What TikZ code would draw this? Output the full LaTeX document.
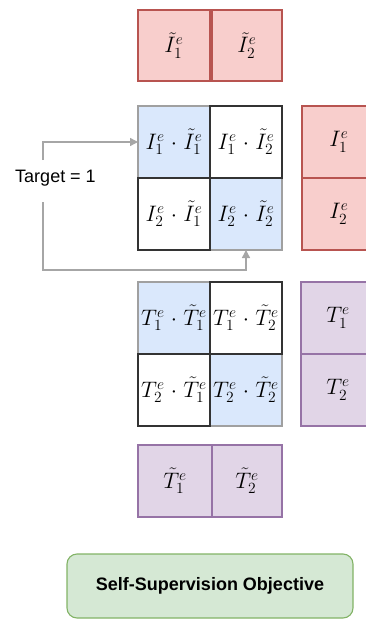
\documentclass[tikz,border=0pt]{standalone}
\usepackage{fontspec}
\usepackage{graphicx}
\newfontfamily\arial{Liberation Sans}
\usetikzlibrary{arrows.meta}
\definecolor{redfill}{HTML}{F8CECC}
\definecolor{redline}{HTML}{B85450}
\definecolor{bluefill}{HTML}{DAE8FC}
\definecolor{purfill}{HTML}{E1D5E7}
\definecolor{purline}{HTML}{9673A6}
\definecolor{grnfill}{HTML}{D5E8D4}
\definecolor{grnline}{HTML}{82B366}
\definecolor{arrgray}{HTML}{A6A6A6}
\definecolor{cellgray}{HTML}{A0A0A0}
\definecolor{celldark}{HTML}{333333}
\newcommand{\pdot}{\mkern1mu\cdot\mkern1mu}
\newcommand{\mth}[1]{\scalebox{1.08}{$#1$}}
\begin{document}
\begin{tikzpicture}[x=1pt,y=-1pt,
  cell/.style={minimum width=#1, inner sep=0pt, outer sep=0pt, font=\fontsize{20.74}{25}\selectfont},
  redcell/.style={cell=72pt, minimum height=71pt, draw=redline, fill=redfill, line width=1.1pt},
  redcol/.style={cell=74pt, minimum height=72pt, draw=redline, fill=redfill, line width=1.1pt},
  purcell/.style={cell=72pt, minimum height=72pt, draw=purline, fill=purfill, line width=1.1pt},
  purcol/.style={cell=74pt, minimum height=72pt, draw=purline, fill=purfill, line width=1.1pt},
  bluecell/.style={cell=72pt, minimum height=72pt, draw=cellgray, fill=bluefill, line width=1.1pt},
  whitecell/.style={cell=72pt, minimum height=72pt, draw=celldark, fill=white, line width=1.1pt},
  arr/.style={draw=arrgray, line width=1.4pt, -{Triangle[length=8pt,width=8pt]}},
]
\useasboundingbox (0,0) rectangle (366,619);
% top image tilde row
\node[redcell] (it1) at (174,45.5) {\mth{\tilde{I}_1^e}};
\node[redcell, minimum width=70pt] (it2) at (247,45.5) {\mth{\tilde{I}_2^e}};
% image matrix
\node[bluecell] (m11) at (174,142) {\mth{I_1^e\pdot\tilde{I}_1^e}};
\node[bluecell] (m22) at (246,214) {\mth{I_2^e\pdot\tilde{I}_2^e}};
\node[whitecell] (m12) at (246,142) {\mth{I_1^e\pdot\tilde{I}_2^e}};
\node[whitecell] (m21) at (174,214) {\mth{I_2^e\pdot\tilde{I}_1^e}};
% image column
\node[redcol] (i1) at (339,142) {\mth{I_1^e}};
\node[redcol] (i2) at (339,214) {\mth{I_2^e}};
% target label and arrows
\node[font=\arial\fontsize{18}{21}\selectfont, inner sep=0pt] (target) at (55.5,178) {Target = 1};
\coordinate (c1) at (43,160);
\coordinate (c2) at (43,202);
\draw[arr] (c1) |- (m11.west);
\draw[arr] (c2) -- ++(0,68) -| (m22.south);
% text matrix
\node[bluecell] (t11) at (174,318) {\mth{T_1^e\pdot\tilde{T}_1^e}};
\node[bluecell] (t22) at (246,390) {\mth{T_2^e\pdot\tilde{T}_2^e}};
\node[whitecell] (t12) at (246,318) {\mth{T_1^e\pdot\tilde{T}_2^e}};
\node[whitecell] (t21) at (174,390) {\mth{T_2^e\pdot\tilde{T}_1^e}};
% text column
\node[purcol] (tc1) at (338,318) {\mth{T_1^e}};
\node[purcol] (tc2) at (338,390) {\mth{T_2^e}};
% bottom text tilde row
\node[purcell, minimum width=74pt] (tt1) at (175,481) {\mth{\tilde{T}_1^e}};
\node[purcell, minimum width=70pt] (tt2) at (247,481) {\mth{\tilde{T}_2^e}};
% objective
\node[draw=grnline, fill=grnfill, line width=1.1pt, rounded corners=10pt,
      minimum width=286pt, minimum height=64pt, inner sep=0pt,
      font=\arial\bfseries\fontsize{18}{21}\selectfont] (obj) at (210,586) {Self-Supervision Objective};
\end{tikzpicture}
\end{document}
